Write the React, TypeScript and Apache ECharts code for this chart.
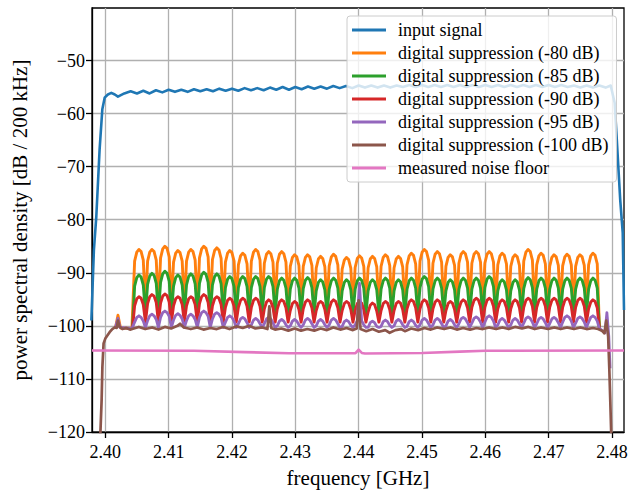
import React, { useEffect, useRef } from "react";
import * as echarts from "echarts";

const FONT = "'Liberation Serif', 'Times New Roman', serif";

const seriesNames = [
  "input signal",
  "digital suppression (-80 dB)",
  "digital suppression (-85 dB)",
  "digital suppression (-90 dB)",
  "digital suppression (-95 dB)",
  "digital suppression (-100 dB)",
  "measured noise floor",
];
const seriesColors = ["#1f77b4", "#ff7f0e", "#2ca02c", "#d62728", "#9467bd", "#8c564b", "#e377c2"];

const xTicks = [2.4, 2.41, 2.42, 2.43, 2.44, 2.45, 2.46, 2.47, 2.48];
const yTicks = [-120, -110, -100, -90, -80, -70, -60, -50];

// channel comb sampling grid (6 samples per channel)
const COMB_START = 2.40429;
const COMB_PERIOD = 0.002048;
const COMB_SAMPLES = 6;

// [freq GHz, dB]
const inputSignal: number[][] = [
  [2.3978, -99], [2.3982, -85.7], [2.39858, -79.4], [2.3991, -66.8], [2.39953, -59.2], [2.3999, -57.0],
  [2.40041, -56.4], [2.40095, -56.1], [2.4015, -56.4], [2.402, -56.8], [2.403, -56.2], [2.404, -55.8],
  [2.405, -56.2], [2.406, -55.7], [2.407, -56.2], [2.408, -55.6], [2.409, -56.0], [2.41, -55.5],
  [2.411, -55.9], [2.412, -55.5], [2.413, -55.9], [2.414, -55.4], [2.415, -55.8], [2.416, -55.4],
  [2.417, -55.8], [2.418, -55.3], [2.419, -55.7], [2.42, -55.3], [2.421, -55.7], [2.422, -55.2],
  [2.423, -55.6], [2.424, -55.2], [2.425, -55.6], [2.426, -55.1], [2.427, -55.5], [2.428, -55.0],
  [2.429, -55.5], [2.43, -55.0], [2.431, -55.4], [2.432, -54.9], [2.433, -55.3], [2.434, -54.9],
  [2.435, -55.3], [2.436, -54.8], [2.437, -55.2], [2.438, -54.8], [2.439, -55.2], [2.44, -54.7],
  [2.441, -55.1], [2.442, -54.7], [2.443, -55.1], [2.444, -54.7], [2.445, -55.1], [2.446, -54.7],
  [2.447, -55.0], [2.448, -54.6], [2.449, -55.0], [2.45, -54.6], [2.451, -55.0], [2.452, -54.6],
  [2.453, -55.0], [2.454, -54.6], [2.455, -55.0], [2.456, -54.6], [2.457, -55.0], [2.458, -54.6],
  [2.459, -55.0], [2.46, -54.6], [2.461, -55.0], [2.462, -54.6], [2.463, -55.0], [2.464, -54.6],
  [2.465, -55.0], [2.466, -54.6], [2.467, -55.0], [2.468, -54.6], [2.469, -55.0], [2.47, -54.6],
  [2.471, -55.0], [2.472, -54.6], [2.473, -55.0], [2.474, -54.7], [2.475, -55.1], [2.476, -54.7],
  [2.477, -55.1], [2.478, -54.7], [2.479, -55.1], [2.4798, -54.7], [2.48043, -58.0], [2.4807, -63.6],
  [2.4813, -76.2], [2.4817, -82.5], [2.4819, -97.0],
];

// comb values, one row per channel: dip, rise, shoulder, top, shoulder, fall
const supp80: number[] = [
  -100.5, -87.8, -86.1, -85.6, -86.0, -87.6,
  -96.5, -87.8, -86.1, -85.6, -86.0, -87.6,
  -96.5, -87.2, -85.5, -85.0, -85.4, -87.0,
  -96.5, -88.0, -86.3, -85.8, -86.2, -87.8,
  -96.5, -87.8, -86.1, -85.6, -86.0, -87.6,
  -96.5, -87.2, -85.5, -85.0, -85.4, -87.0,
  -96.5, -87.5, -85.8, -85.3, -85.7, -87.3,
  -96.5, -88.0, -86.3, -85.8, -86.2, -87.8,
  -96.5, -88.5, -86.8, -86.3, -86.7, -88.3,
  -96.5, -87.8, -86.1, -85.6, -86.0, -87.6,
  -96.5, -88.2, -86.5, -86.0, -86.4, -88.0,
  -96.5, -88.2, -86.5, -86.0, -86.4, -88.0,
  -96.5, -88.8, -87.1, -86.6, -87.0, -88.6,
  -96.5, -88.8, -87.1, -86.6, -87.0, -88.6,
  -96.5, -89.1, -87.4, -86.9, -87.3, -88.9,
  -96.5, -88.7, -87.0, -86.5, -86.9, -88.5,
  -96.5, -89.3, -87.6, -87.1, -87.5, -89.1,
  -96.5, -89.0, -87.3, -86.8, -87.2, -88.8,
  -96.5, -89.1, -87.4, -86.9, -87.3, -88.9,
  -96.5, -88.8, -87.1, -86.6, -87.0, -88.6,
  -96.5, -89.1, -87.4, -86.9, -87.3, -88.9,
  -96.5, -88.5, -86.8, -86.3, -86.7, -88.3,
  -96.5, -87.8, -86.1, -85.6, -86.0, -87.6,
  -96.5, -88.2, -86.5, -86.0, -86.4, -88.0,
  -96.5, -88.8, -87.1, -86.6, -87.0, -88.6,
  -96.5, -88.2, -86.5, -86.0, -86.4, -88.0,
  -96.5, -88.2, -86.5, -86.0, -86.4, -88.0,
  -96.5, -88.2, -86.5, -86.0, -86.4, -88.0,
  -96.5, -88.5, -86.8, -86.3, -86.7, -88.3,
  -96.5, -88.8, -87.1, -86.6, -87.0, -88.6,
  -96.5, -87.8, -86.1, -85.6, -86.0, -87.6,
  -96.5, -88.5, -86.8, -86.3, -86.7, -88.3,
  -96.5, -88.8, -87.1, -86.6, -87.0, -88.6,
  -96.5, -88.7, -87.0, -86.5, -86.9, -88.5,
  -96.5, -88.8, -87.1, -86.6, -87.0, -88.6,
  -96.5, -88.5, -86.8, -86.3, -86.7, -88.3,
  -100.5,
];

const supp85: number[] = [
  -100.5, -92.5, -90.9, -90.4, -90.8, -92.3,
  -97.8, -92.2, -90.6, -90.1, -90.5, -92.0,
  -97.8, -91.8, -90.2, -89.7, -90.1, -91.6,
  -97.8, -92.5, -90.9, -90.4, -90.8, -92.3,
  -97.8, -92.3, -90.7, -90.2, -90.6, -92.1,
  -97.8, -92.0, -90.4, -89.9, -90.3, -91.8,
  -97.8, -92.3, -90.7, -90.2, -90.6, -92.1,
  -97.8, -92.8, -91.2, -90.7, -91.1, -92.6,
  -97.8, -92.8, -91.2, -90.7, -91.1, -92.6,
  -97.8, -92.8, -91.2, -90.7, -91.1, -92.6,
  -97.8, -92.8, -91.2, -90.7, -91.1, -92.6,
  -97.8, -93.1, -91.5, -91.0, -91.4, -92.9,
  -97.8, -93.1, -91.5, -91.0, -91.4, -92.9,
  -97.8, -93.0, -91.4, -90.9, -91.3, -92.8,
  -97.8, -93.4, -91.8, -91.3, -91.7, -93.2,
  -97.8, -93.1, -91.5, -91.0, -91.4, -92.9,
  -97.8, -93.4, -91.8, -91.3, -91.7, -93.2,
  -97.8, -93.1, -91.5, -91.0, -91.4, -92.9,
  -97.8, -93.4, -91.8, -91.3, -91.7, -93.2,
  -97.8, -93.1, -91.5, -91.0, -91.4, -92.9,
  -97.8, -93.4, -91.8, -91.3, -91.7, -93.2,
  -97.8, -93.1, -91.5, -91.0, -91.4, -92.9,
  -97.8, -92.8, -91.2, -90.7, -91.1, -92.6,
  -97.8, -93.1, -91.5, -91.0, -91.4, -92.9,
  -97.8, -93.4, -91.8, -91.3, -91.7, -93.2,
  -97.8, -93.1, -91.5, -91.0, -91.4, -92.9,
  -97.8, -93.1, -91.5, -91.0, -91.4, -92.9,
  -97.8, -92.8, -91.2, -90.7, -91.1, -92.6,
  -97.8, -93.4, -91.8, -91.3, -91.7, -93.2,
  -97.8, -93.4, -91.8, -91.3, -91.7, -93.2,
  -97.8, -93.0, -91.4, -90.9, -91.3, -92.8,
  -97.8, -93.1, -91.5, -91.0, -91.4, -92.9,
  -97.8, -93.1, -91.5, -91.0, -91.4, -92.9,
  -97.8, -93.1, -91.5, -91.0, -91.4, -92.9,
  -97.8, -93.1, -91.5, -91.0, -91.4, -92.9,
  -97.8, -93.1, -91.5, -91.0, -91.4, -92.9,
  -100.5,
];

const supp90: number[] = [
  -100.5, -96.2, -94.9, -94.5, -94.8, -96.0,
  -99.3, -95.8, -94.5, -94.1, -94.4, -95.6,
  -99.3, -95.7, -94.4, -94.0, -94.3, -95.5,
  -99.3, -96.2, -94.9, -94.5, -94.8, -96.0,
  -99.3, -96.2, -94.9, -94.5, -94.8, -96.0,
  -99.3, -95.8, -94.5, -94.1, -94.4, -95.6,
  -99.3, -96.2, -94.9, -94.5, -94.8, -96.0,
  -99.3, -96.5, -95.2, -94.8, -95.1, -96.3,
  -99.3, -96.5, -95.2, -94.8, -95.1, -96.3,
  -99.3, -96.5, -95.2, -94.8, -95.1, -96.3,
  -99.3, -96.8, -95.5, -95.1, -95.4, -96.6,
  -99.3, -96.8, -95.5, -95.1, -95.4, -96.6,
  -99.3, -97.1, -95.8, -95.4, -95.7, -96.9,
  -99.3, -96.8, -95.5, -95.1, -95.4, -96.6,
  -99.3, -97.1, -95.8, -95.4, -95.7, -96.9,
  -99.3, -96.8, -95.5, -95.1, -95.4, -96.6,
  -99.3, -97.1, -95.8, -95.4, -95.7, -96.9,
  -99.3, -97.1, -95.8, -95.4, -95.7, -96.9,
  -99.3, -97.4, -96.1, -95.7, -96.0, -97.2,
  -99.3, -97.1, -95.8, -95.4, -95.7, -96.9,
  -99.3, -97.1, -95.8, -95.4, -95.7, -96.9,
  -99.3, -96.8, -95.5, -95.1, -95.4, -96.6,
  -99.3, -96.8, -95.5, -95.1, -95.4, -96.6,
  -99.3, -96.8, -95.5, -95.1, -95.4, -96.6,
  -99.3, -97.1, -95.8, -95.4, -95.7, -96.9,
  -99.3, -96.8, -95.5, -95.1, -95.4, -96.6,
  -99.3, -96.5, -95.2, -94.8, -95.1, -96.3,
  -99.3, -96.5, -95.2, -94.8, -95.1, -96.3,
  -99.3, -96.8, -95.5, -95.1, -95.4, -96.6,
  -99.3, -96.8, -95.5, -95.1, -95.4, -96.6,
  -99.3, -96.5, -95.2, -94.8, -95.1, -96.3,
  -99.3, -96.5, -95.2, -94.8, -95.1, -96.3,
  -99.3, -96.5, -95.2, -94.8, -95.1, -96.3,
  -99.3, -96.5, -95.2, -94.8, -95.1, -96.3,
  -99.3, -96.5, -95.2, -94.8, -95.1, -96.3,
  -99.3, -96.8, -95.5, -95.1, -95.4, -96.6,
  -100.5,
];

const supp95: number[] = [
  -100.5, -99.3, -98.4, -98.1, -98.4, -99.1,
  -100.3, -99.0, -98.1, -97.8, -98.1, -98.8,
  -100.3, -98.4, -97.5, -97.2, -97.5, -98.2,
  -100.3, -98.9, -98.0, -97.7, -98.0, -98.7,
  -100.3, -99.0, -98.1, -97.8, -98.1, -98.8,
  -100.3, -98.4, -97.5, -97.2, -97.5, -98.2,
  -100.3, -98.7, -97.8, -97.5, -97.8, -98.5,
  -100.3, -99.3, -98.4, -98.1, -98.4, -99.1,
  -100.3, -99.6, -98.7, -98.4, -98.7, -99.4,
  -100.3, -99.8, -98.9, -98.6, -98.9, -99.6,
  -100.3, -99.6, -98.7, -98.4, -98.7, -99.4,
  -100.3, -100.0, -99.1, -98.8, -99.1, -99.8,
  -100.3, -100.0, -99.1, -98.8, -99.1, -99.8,
  -100.3, -99.8, -98.9, -98.6, -98.9, -99.6,
  -100.3, -100.0, -99.1, -98.8, -99.1, -99.8,
  -100.3, -99.8, -98.9, -98.6, -98.9, -99.6,
  -100.3, -100.1, -99.2, -98.9, -99.2, -99.9,
  -100.3, -99.8, -99.0, -92.0, -99.0, -99.8,
  -100.3, -100.3, -99.4, -99.1, -99.4, -100.1,
  -100.3, -100.1, -99.2, -98.9, -99.2, -99.9,
  -100.3, -100.0, -99.1, -98.8, -99.1, -99.8,
  -100.3, -100.1, -99.2, -98.9, -99.2, -99.9,
  -100.3, -99.8, -98.9, -98.6, -98.9, -99.6,
  -100.3, -99.8, -98.9, -98.6, -98.9, -99.6,
  -100.3, -100.0, -99.1, -98.8, -99.1, -99.8,
  -100.3, -99.6, -98.7, -98.4, -98.7, -99.4,
  -100.3, -99.5, -98.6, -98.3, -98.6, -99.3,
  -100.3, -99.3, -98.4, -98.1, -98.4, -99.1,
  -100.3, -99.8, -98.9, -98.6, -98.9, -99.6,
  -100.3, -99.8, -98.9, -98.6, -98.9, -99.6,
  -100.3, -99.5, -98.6, -98.3, -98.6, -99.3,
  -100.3, -99.6, -98.7, -98.4, -98.7, -99.4,
  -100.3, -99.6, -98.7, -98.4, -98.7, -99.4,
  -100.3, -99.3, -98.4, -98.1, -98.4, -99.1,
  -100.3, -99.5, -98.6, -98.3, -98.6, -99.3,
  -100.3, -99.3, -98.4, -98.1, -98.4, -99.1,
  -100.5,
];

const supp80Lead: number[][] = [[2.4016, -100.4], [2.402, -98.0], [2.4024, -100.4], [2.4042, -100.5]];
const supp95Lead: number[][] = [[2.4016, -100.3], [2.402, -98.6], [2.4023, -100.3], [2.4042, -100.5]];
const supp95Tail: number[][] = [[2.4785, -100.9], [2.4789, -101.3], [2.4792, -97.5], [2.4795, -102.0], [2.4797, -108]];

const supp100: number[][] = [
  [2.3992, -121], [2.39942, -114], [2.39954, -107.7], [2.39973, -103.3], [2.4, -102.4], [2.40068, -101.2],
  [2.4011, -100.6], [2.4015, -100.3], [2.4018, -100.4], [2.402, -99.0], [2.4022, -100.1], [2.4027, -100.6],
  [2.4033, -100.4], [2.4039, -100.7], [2.4045, -100.5], [2.4053, -100.2], [2.4063, -100.6], [2.4074, -100.3],
  [2.4084, -100.7], [2.4094, -100.2], [2.4104, -100.5], [2.4114, -100.0], [2.4118, -99.6], [2.4124, -100.3],
  [2.4135, -100.6], [2.4145, -100.3], [2.4155, -100.7], [2.4166, -100.4], [2.4176, -100.6], [2.4186, -100.2],
  [2.4196, -100.6], [2.4207, -100.1], [2.4217, -100.4], [2.4227, -100.0], [2.4237, -100.5], [2.4248, -100.3],
  [2.4256, -100.6], [2.4259, -96.3], [2.4262, -100.4], [2.4268, -100.7], [2.4278, -100.5], [2.4289, -100.9],
  [2.4299, -100.5], [2.4309, -100.9], [2.4319, -100.6], [2.433, -100.9], [2.434, -100.5], [2.435, -100.8],
  [2.436, -100.3], [2.4371, -100.7], [2.4381, -100.4], [2.4391, -100.8], [2.4397, -100.5], [2.44, -95.2],
  [2.4403, -100.6], [2.4412, -101.0], [2.4422, -100.6], [2.4432, -101.1], [2.4442, -100.8], [2.4449, -101.3],
  [2.4458, -100.8], [2.4467, -100.6], [2.4473, -101.0], [2.4483, -100.5], [2.4494, -100.8], [2.4504, -100.4],
  [2.4514, -100.7], [2.4524, -100.3], [2.4535, -100.6], [2.4545, -100.3], [2.4555, -100.7], [2.4565, -100.4],
  [2.4576, -100.7], [2.4586, -100.4], [2.4596, -100.6], [2.4606, -100.3], [2.4617, -100.6], [2.4627, -100.3],
  [2.4637, -100.6], [2.4647, -100.2], [2.4658, -100.5], [2.4668, -100.2], [2.4678, -100.6], [2.4688, -100.3],
  [2.4699, -100.6], [2.4709, -100.3], [2.4719, -100.6], [2.4729, -100.3], [2.474, -100.6], [2.475, -100.3],
  [2.476, -100.6], [2.477, -100.4], [2.4778, -100.6], [2.4784, -100.9], [2.4788, -101.4], [2.4791, -99.0],
  [2.4794, -102.0], [2.47957, -107.7], [2.47973, -114], [2.4799, -121],
];

const noiseFloor: number[][] = [
  [2.3979, -104.65], [2.414, -104.7], [2.422, -104.95], [2.429, -105.15], [2.4395, -105.15], [2.44, -104.5],
  [2.4405, -105.1], [2.441, -105.2], [2.45, -105.1], [2.456, -104.85], [2.46, -104.7], [2.4819, -104.65],
];

function combPairs(vals: number[]): number[][] {
  return vals.map((v, i) => [COMB_START + (i * COMB_PERIOD) / COMB_SAMPLES, v]);
}

const minus = (v: number) => (v < 0 ? "\u2212" + Math.abs(v) : String(v));

export default function App() {
  const ref = useRef<HTMLDivElement>(null);
  useEffect(() => {
    if (!ref.current) return;
    const chart = echarts.init(ref.current, undefined, { renderer: "svg" });
    const datas = [
      inputSignal,
      [...supp80Lead, ...combPairs(supp80)],
      combPairs(supp85),
      combPairs(supp90),
      [...supp95Lead, ...combPairs(supp95), ...supp95Tail],
      supp100,
      noiseFloor,
    ];
    const widths = [2.6, 2.9, 2.9, 2.9, 2.8, 2.7, 2.6];
    const axisLineStyle = { color: "#000", width: 1.3 };
    chart.setOption({
      animation: false,
      backgroundColor: "#fff",
      textStyle: { fontFamily: FONT },
      grid: {
        left: 92, right: 7, top: 8, bottom: 61, show: true,
        borderColor: "#000", borderWidth: 1.3, containLabel: false,
      },
      legend: {
        orient: "vertical", left: 347, top: 16,
        data: seriesNames,
        icon: "rect", itemWidth: 34, itemHeight: 3, itemGap: 5,
        padding: [5, 8, 5, 5],
        backgroundColor: "rgba(255,255,255,0.8)",
        borderColor: "#cccccc", borderWidth: 1, borderRadius: 3,
        itemStyle: { borderWidth: 0 },
        textStyle: { fontFamily: FONT, fontSize: 18, lineHeight: 16, color: "#000", padding: [0, 0, 0, 7] },
        selectedMode: false,
      },
      xAxis: {
        type: "value", min: 2.3979, max: 2.4819, splitNumber: 8, minInterval: 0.01, maxInterval: 0.01,
        name: "frequency [GHz]", nameLocation: "middle", nameGap: 35,
        nameTextStyle: { fontFamily: FONT, fontSize: 21, color: "#000" },
        axisLine: { show: true, onZero: false, lineStyle: axisLineStyle },
        axisTick: { show: true, length: 6, lineStyle: axisLineStyle, customValues: xTicks },
        axisLabel: {
          customValues: xTicks, margin: 11, fontFamily: FONT, fontSize: 18, color: "#000",
          formatter: (v: number) => v.toFixed(2),
        },
        splitLine: { show: true, lineStyle: { color: "#b0b0b0", width: 1.3 } },
      },
      yAxis: {
        type: "value", min: -120, max: -40.1, interval: 10,
        name: "power spectral density [dB / 200 kHz]", nameLocation: "middle", nameGap: 62,
        nameTextStyle: { fontFamily: FONT, fontSize: 21, color: "#000" },
        axisLine: { show: true, onZero: false, lineStyle: axisLineStyle },
        axisTick: { show: true, length: 6, lineStyle: axisLineStyle, customValues: yTicks },
        axisLabel: {
          customValues: yTicks, margin: 7, fontFamily: FONT, fontSize: 18, color: "#000",
          formatter: (v: number) => minus(v),
        },
        splitLine: { show: true, lineStyle: { color: "#b0b0b0", width: 1.3 } },
      },
      series: seriesNames.map((name, i) => ({
        name, type: "line", data: datas[i], showSymbol: false, symbol: "none",
        clip: true, silent: true,
        lineStyle: { color: seriesColors[i], width: widths[i], join: "round" },
        itemStyle: { color: seriesColors[i] },
        emphasis: { disabled: true },
      })),
    });
    return () => chart.dispose();
  }, []);
  return <div ref={ref} style={{ position: "absolute", left: 0, top: 0, width: 631, height: 493 }} />;
}
